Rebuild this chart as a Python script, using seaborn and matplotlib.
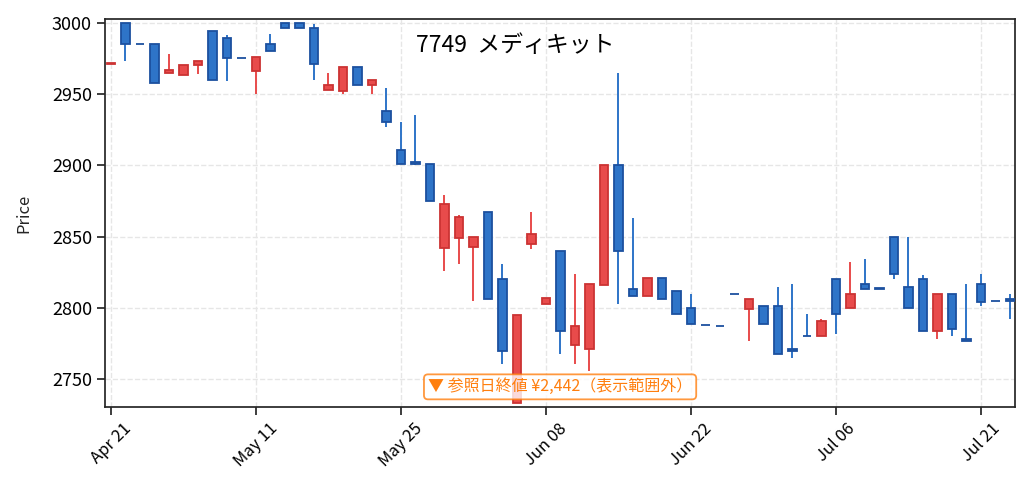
import matplotlib
matplotlib.use("Agg")
import matplotlib.pyplot as plt
import seaborn as sns
import numpy as np

# 日足データ
tick_labels = ['Apr 21', 'May 11', 'May 25', 'Jun 08', 'Jun 22', 'Jul 06', 'Jul 21']

open_ = [2971, 3000, 2985, 2985, 2965, 2963, 2970, 2994, 2989, 2975,
         2966, 2985, 3000, 3000, 2996, 2953, 2952, 2969, 2956, 2938,
         2911, 2902, 2901, 2842, 2849, 2843, 2867, 2820, 2733, 2845,
         2803, 2840, 2774, 2771, 2816, 2900, 2813, 2808, 2821, 2812,
         2800, 2788, 2787, 2810, 2799, 2801, 2801, 2771, 2780, 2780,
         2820, 2800, 2817, 2814, 2850, 2815, 2820, 2784, 2810, 2778,
         2817, 2805, 2806]
high = [2972, 3000, 2985, 2985, 2978, 2970, 2973, 2994, 2991, 2975,
        2976, 2992, 3000, 3000, 2999, 2965, 2969, 2969, 2960, 2954,
        2930, 2935, 2901, 2879, 2865, 2850, 2867, 2831, 2795, 2867,
        2807, 2840, 2824, 2817, 2900, 2965, 2863, 2821, 2821, 2812,
        2810, 2788, 2787, 2810, 2806, 2801, 2815, 2817, 2796, 2792,
        2820, 2832, 2834, 2814, 2850, 2850, 2823, 2810, 2810, 2817,
        2824, 2805, 2810]
low = [2971, 2973, 2985, 2958, 2965, 2963, 2964, 2960, 2959, 2975,
       2950, 2980, 2996, 2996, 2960, 2953, 2950, 2956, 2950, 2927,
       2901, 2900, 2875, 2826, 2831, 2805, 2806, 2761, 2733, 2841,
       2803, 2768, 2761, 2756, 2816, 2803, 2808, 2808, 2806, 2796,
       2789, 2788, 2787, 2810, 2777, 2789, 2768, 2765, 2780, 2780,
       2782, 2800, 2813, 2813, 2820, 2800, 2784, 2778, 2780, 2777,
       2801, 2805, 2792]
close = [2972, 2985, 2985, 2958, 2967, 2970, 2973, 2960, 2975, 2975,
         2976, 2980, 2996, 2996, 2971, 2956, 2969, 2956, 2960, 2930,
         2901, 2901, 2875, 2873, 2864, 2850, 2806, 2770, 2795, 2852,
         2807, 2784, 2787, 2817, 2900, 2840, 2808, 2821, 2806, 2796,
         2789, 2788, 2787, 2810, 2806, 2789, 2768, 2770, 2780, 2791,
         2796, 2810, 2813, 2813, 2824, 2800, 2784, 2810, 2785, 2777,
         2804, 2805, 2805]

sns.set_theme(style="ticks")
plt.rcParams['font.family'] = ['Noto Sans CJK JP', 'DejaVu Sans']

UP_FILL, UP_EDGE = '#e84b4b', '#cc3333'
DN_FILL, DN_EDGE = '#2e74c8', '#1c509f'

fig, ax = plt.subplots(figsize=(10.31, 4.97), dpi=100)
fig.subplots_adjust(left=0.102, right=0.9845, top=0.962, bottom=0.181)

x = np.arange(len(close))
o = np.array(open_)
c = np.array(close)
up = c > o

fills = np.where(up, UP_FILL, DN_FILL)
edges = np.where(up, UP_EDGE, DN_EDGE)

ax.vlines(x, low, high, colors=fills, linewidth=1.4, zorder=2)
ax.bar(x, c - o, bottom=o, width=0.6, color=fills, edgecolor=edges,
       linewidth=1.3, zorder=3)

ax.set_xlim(-0.4, 62.35)
ax.set_ylim(2730.5, 3002.6)
ax.set_xticks(x[::10])
ax.set_xticklabels(tick_labels, rotation=45, fontsize=12, color='black')
ax.tick_params(axis='y', labelsize=13, labelcolor='black')
ax.set_ylabel('Price', fontsize=12, labelpad=14)
ax.grid(True, linestyle='--', color='#e6e6e6', linewidth=1)
ax.set_axisbelow(True)

fig.text(0.5, 0.909, '7749  メディキット', ha='center', va='center',
         fontsize=16.5, color='black')

ax.text(0.5, 0.052, '▼ 参照日終値 ¥2,442（表示範囲外）', transform=ax.transAxes,
        ha='center', va='center', fontsize=11.5, color='#ff7f0e', zorder=5,
        bbox=dict(boxstyle='round,pad=0.25', facecolor='white', alpha=0.8,
                  edgecolor='#ff7f0e', linewidth=1.3))

plt.savefig('out.png')
